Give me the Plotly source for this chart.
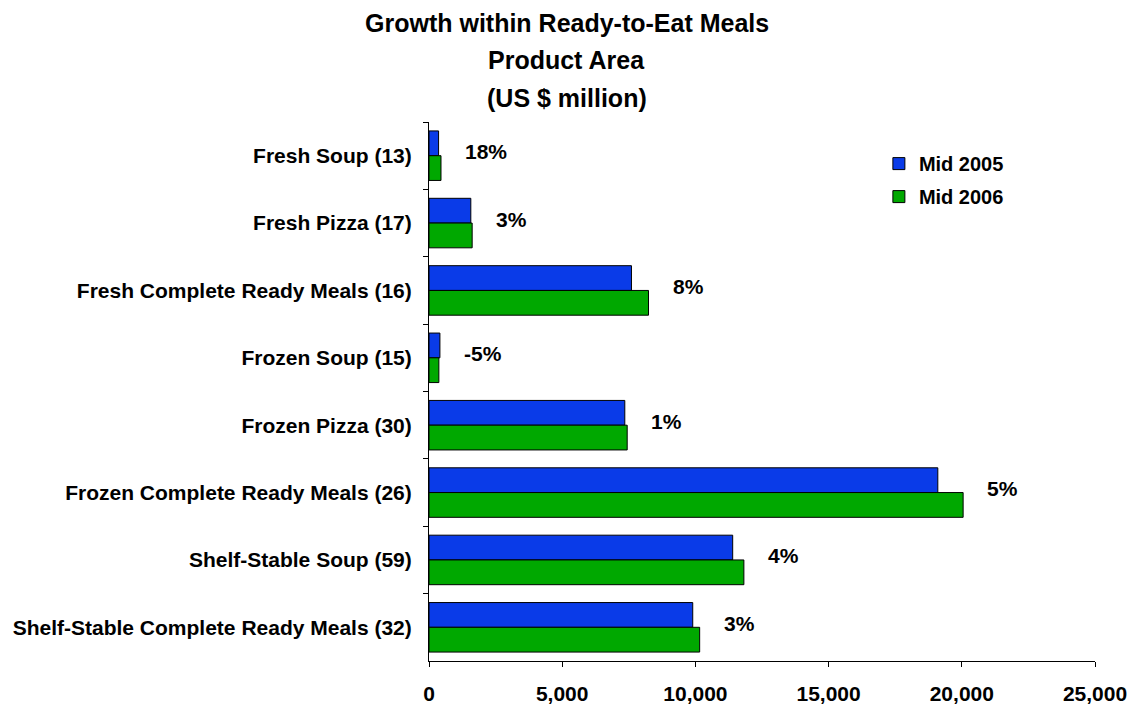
import plotly.graph_objects as go

categories = [
    "Fresh Soup (13)",
    "Fresh Pizza (17)",
    "Fresh Complete Ready Meals (16)",
    "Frozen Soup (15)",
    "Frozen Pizza (30)",
    "Frozen Complete Ready Meals (26)",
    "Shelf-Stable Soup (59)",
    "Shelf-Stable Complete Ready Meals (32)",
]
mid_2005 = [360, 1570, 7600, 410, 7350, 19100, 11400, 9900]
mid_2006 = [450, 1620, 8240, 370, 7440, 20050, 11820, 10160]
growth_labels = ["18%", "3%", "8%", "-5%", "1%", "5%", "4%", "3%"]
x_ticks = [0, 5000, 10000, 15000, 20000, 25000]
x_tick_text = ["0", "5,000", "10,000", "15,000", "20,000", "25,000"]
title_lines = ["Growth within Ready-to-Eat Meals", "Product Area", "(US $ million)"]

FONT = "Liberation Sans, Arial, sans-serif"
BLUE = "#0a3be8"
GREEN = "#00a800"

# plot area in pixels
L, R, T, B = 429, 1095, 122, 661
W_FIG, H_FIG = 1133, 707

fig = go.Figure()
fig.add_trace(go.Bar(
    y=categories, x=mid_2005, orientation="h", name="Mid 2005",
    marker=dict(color=BLUE, line=dict(color="black", width=1)),
    legendgroup="a",
))
fig.add_trace(go.Bar(
    y=categories, x=mid_2006, orientation="h", name="Mid 2006",
    marker=dict(color=GREEN, line=dict(color="black", width=1)),
    legendgroup="b",
))

for cat, a, b, lab in zip(categories, mid_2005, mid_2006, growth_labels):
    fig.add_annotation(
        x=max(a, b), y=cat, xref="x", yref="y", text=lab, showarrow=False,
        xanchor="left", yanchor="middle", xshift=22, yshift=4,
        font=dict(family=FONT, size=21, color="black", weight="bold"),
    )

title_px = [23, 60, 98]
for line, yy in zip(title_lines, title_px):
    fig.add_annotation(
        x=(W_FIG / 2 - L) / (R - L), y=(B - yy) / (B - T),
        xref="paper", yref="paper", text=line,
        showarrow=False, xanchor="center", yanchor="middle",
        font=dict(family=FONT, size=25, color="black", weight="bold"),
    )

fig.update_layout(
    width=W_FIG, height=H_FIG,
    margin=dict(l=L, r=W_FIG - R, t=T, b=H_FIG - B, autoexpand=False),
    paper_bgcolor="white", plot_bgcolor="white",
    barmode="group", bargap=0.265, bargroupgap=0,
    font=dict(family=FONT, size=16, color="black", weight="bold"),
    showlegend=True,
    legend=dict(
        x=0.6755, y=0.959, xanchor="left", yanchor="top",
        font=dict(family=FONT, size=20, color="black", weight="bold"),
        traceorder="grouped", tracegroupgap=4,
        bgcolor="rgba(0,0,0,0)", itemwidth=30,
    ),
    xaxis=dict(
        range=[0, 25000], tickvals=x_ticks, ticktext=x_tick_text,
        showgrid=False, zeroline=False, showline=True, linecolor="black",
        linewidth=1, ticks="outside", ticklen=5, tickcolor="black",
        tickfont=dict(family=FONT, size=21, color="black", weight="bold"),
        ticklabelstandoff=9, automargin=False,
    ),
    yaxis=dict(
        type="category", categoryorder="array", categoryarray=categories,
        autorange="reversed", tickson="boundaries",
        showgrid=False, zeroline=False, showline=True, linecolor="black",
        linewidth=1, ticks="outside", ticklen=5, tickcolor="black",
        tickfont=dict(family=FONT, size=21, color="black", weight="bold"),
        ticklabelstandoff=12, automargin=False,
    ),
)

fig.write_html("out.html")
